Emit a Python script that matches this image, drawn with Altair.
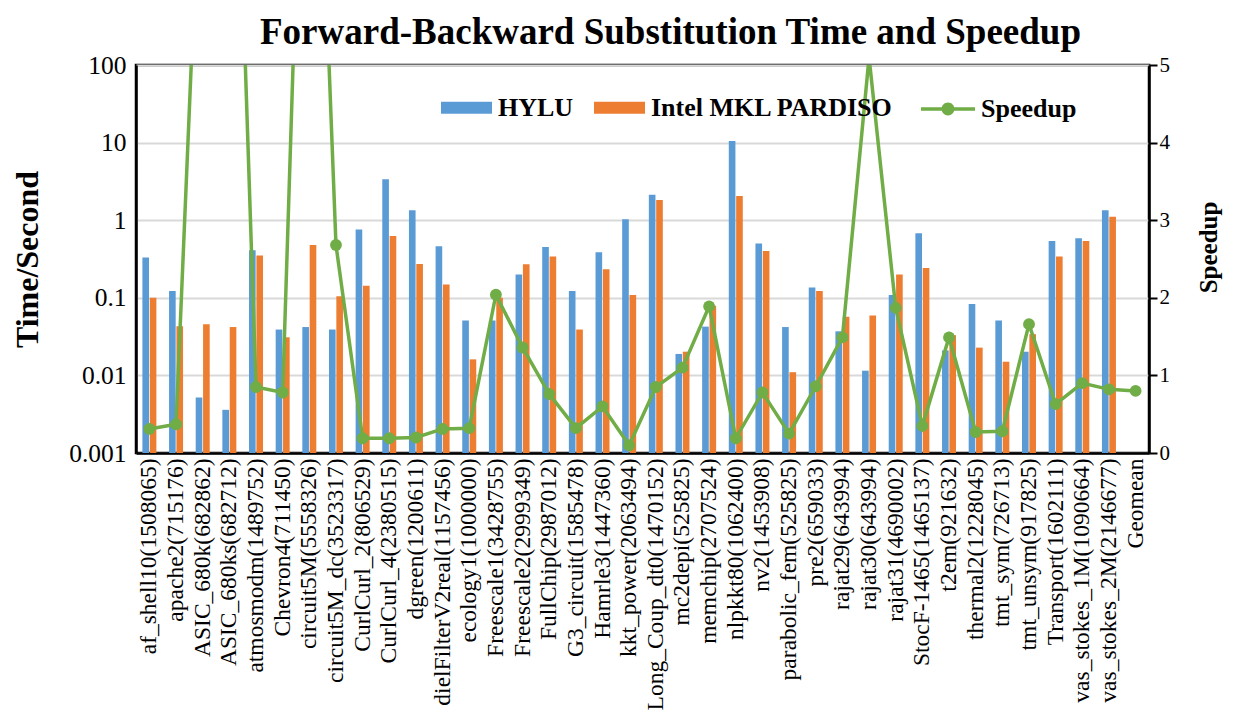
import altair as alt
import pandas as pd

categories = [
    "af_shell10(1508065)", "apache2(715176)", "ASIC_680k(682862)", "ASIC_680ks(682712)",
    "atmosmodm(1489752)", "Chevron4(711450)", "circuit5M(5558326)", "circuit5M_dc(3523317)",
    "CurlCurl_2(806529)", "CurlCurl_4(2380515)", "dgreen(1200611)", "dielFilterV2real(1157456)",
    "ecology1(1000000)", "Freescale1(3428755)", "Freescale2(2999349)", "FullChip(2987012)",
    "G3_circuit(1585478)", "Hamrle3(1447360)", "kkt_power(2063494)", "Long_Coup_dt0(1470152)",
    "mc2depi(525825)", "memchip(2707524)", "nlpkkt80(1062400)", "nv2(1453908)",
    "parabolic_fem(525825)", "pre2(659033)", "rajat29(643994)", "rajat30(643994)",
    "rajat31(4690002)", "StocF-1465(1465137)", "t2em(921632)", "thermal2(1228045)",
    "tmt_sym(726713)", "tmt_unsym(917825)", "Transport(1602111)", "vas_stokes_1M(1090664)",
    "vas_stokes_2M(2146677)", "Geomean",
]

hylu = [0.33, 0.122, 0.0052, 0.0036, 0.41, 0.039, 0.042, 0.039, 0.76, 3.37, 1.34, 0.46,
        0.051, 0.051, 0.20, 0.45, 0.122, 0.385, 1.03, 2.13, 0.0189, 0.0425, 10.5, 0.50,
        0.042, 0.136, 0.037, 0.0115, 0.109, 0.68, 0.021, 0.083, 0.051, 0.0202, 0.54, 0.585,
        1.34]

mkl = [0.10, 0.043, 0.0455, 0.042, 0.35, 0.031, 0.48, 0.105, 0.143, 0.625, 0.273, 0.148,
       0.0161, 0.10, 0.27, 0.34, 0.039, 0.233, 0.109, 1.82, 0.0202, 0.079, 2.05, 0.40,
       0.011, 0.122, 0.057, 0.059, 0.20, 0.242, 0.033, 0.0228, 0.015, 0.034, 0.34, 0.54,
       1.11]

speedup = [0.31, 0.37, 8.5, 11.2, 0.85, 0.78, 11.6, 2.68, 0.19, 0.19, 0.20, 0.31,
           0.32, 2.04, 1.36, 0.76, 0.32, 0.60, 0.10, 0.85, 1.10, 1.89, 0.19, 0.78,
           0.25, 0.86, 1.49, 5.1, 1.87, 0.35, 1.49, 0.27, 0.28, 1.66, 0.63, 0.90,
           0.82, 0.80]

bar_series = ["HYLU", "Intel MKL PARDISO"]
bar_colors = ["#5B9BD5", "#ED7D31"]
line_color = "#70AD47"
y_min, y_max = 0.001, 100

rows = []
for c, h, m in zip(categories, hylu, mkl):
    rows.append({"category": c, "series": bar_series[0], "value": h})
    rows.append({"category": c, "series": bar_series[1], "value": m})
bars_df = pd.DataFrame(rows)
sp_df = pd.DataFrame({"category": categories, "speedup": speedup,
                      "series": ["Speedup"] * len(categories)})

FONT = "Liberation Serif"
bar_symbol = "M-1,-0.235H1V0.235H-1Z"
line_symbol = "M-1,-0.065H1V0.065H-1Z M-0.24,0A0.24,0.24 0 1,1 0.24,0A0.24,0.24 0 1,1 -0.24,0Z"

xscale = alt.Scale(type="band", domain=categories, paddingInner=0.475, paddingOuter=0.24)
xaxis = alt.Axis(labelAngle=-90, labelAlign="right", labelBaseline="middle",
                 labelPadding=5, labelFontSize=23.5, labelLimit=500, ticks=False,
                 domainColor="black", domainWidth=2.5, labelColor="black", title=None)

yspeed_scale = alt.Scale(domain=[0, 5])
yspeed_axis = alt.Axis(orient="right", values=[0, 1, 2, 3, 4, 5], grid=False,
                       labelFontSize=21, labelColor="black", tickColor="black",
                       tickSize=8, tickWidth=2, domainColor="black", domainWidth=2.5,
                       title="Speedup", titleFontSize=25, titleFontWeight="bold",
                       titleAngle=270, titlePadding=52, titleY=182, titleColor="black")

ylog = alt.Scale(type="log", domain=[y_min, y_max])

bars = alt.Chart(bars_df).mark_bar().encode(
    x=alt.X("category:N", sort=categories, scale=xscale, axis=xaxis),
    xOffset=alt.XOffset("series:N", sort=bar_series,
                        scale=alt.Scale(domain=bar_series, paddingInner=0.1)),
    y=alt.Y("value:Q", scale=ylog,
            axis=alt.Axis(values=[0.001, 0.01, 0.1, 1, 10, 100], format="~g",
                          labelFontSize=25.5, labelColor="black", ticks=False,
                          labelPadding=10,
                          domainColor="black", domainWidth=2.5,
                          grid=True, gridColor="#D9D9D9", gridWidth=2,
                          title="Time/Second",
                          titleFontSize=32, titleFontWeight="bold", titlePadding=24,
                          titleColor="black")),
    y2=alt.Y2(datum=y_min),
    color=alt.Color("series:N", scale=alt.Scale(domain=bar_series, range=bar_colors),
                    legend=alt.Legend(orient="none", legendX=305, legendY=17,
                                      direction="horizontal", title=None,
                                      symbolType=bar_symbol, symbolSize=2601,
                                      symbolStrokeWidth=0, symbolOpacity=1,
                                      labelFontSize=26, labelFontWeight="bold",
                                      labelFont=FONT, labelColor="black", labelLimit=500,
                                      labelOffset=6, columnPadding=20, padding=0)),
)

line = alt.Chart(sp_df).mark_line(color=line_color, strokeWidth=3.5, clip=True).encode(
    x=alt.X("category:N", sort=categories, scale=xscale, axis=xaxis),
    y=alt.Y("speedup:Q", scale=yspeed_scale, axis=yspeed_axis),
)

points = alt.Chart(sp_df).mark_point(filled=True, size=140, opacity=1, clip=True).encode(
    x=alt.X("category:N", sort=categories, scale=xscale, axis=xaxis),
    y=alt.Y("speedup:Q", scale=yspeed_scale, axis=yspeed_axis),
    fill=alt.Fill("series:N", scale=alt.Scale(domain=["Speedup"], range=[line_color]),
                  legend=alt.Legend(orient="none", legendX=785, legendY=17,
                                    direction="horizontal", title=None,
                                    symbolType=line_symbol, symbolSize=2916,
                                    symbolStrokeWidth=0, symbolOpacity=1,
                                    labelFontSize=26, labelFontWeight="bold",
                                    labelFont=FONT, labelColor="black", labelLimit=500,
                                    labelOffset=6, padding=0)),
)

chart = alt.layer(bars, alt.layer(line, points)).resolve_scale(
    y="independent"
).properties(
    width=1013, height=388,
    title=alt.TitleParams("Forward-Backward Substitution Time and Speedup",
                          fontSize=37, fontWeight="bold", font=FONT, color="black",
                          anchor="middle", dx=28, offset=1),
    autosize=alt.AutoSizeParams(type="none"),
    padding={"left": 128, "top": 57, "right": 75, "bottom": 262},
).configure(font=FONT).configure_view(stroke="black", strokeWidth=2.5)

chart.save("out.html", embed_options={"renderer": "svg", "actions": False})
